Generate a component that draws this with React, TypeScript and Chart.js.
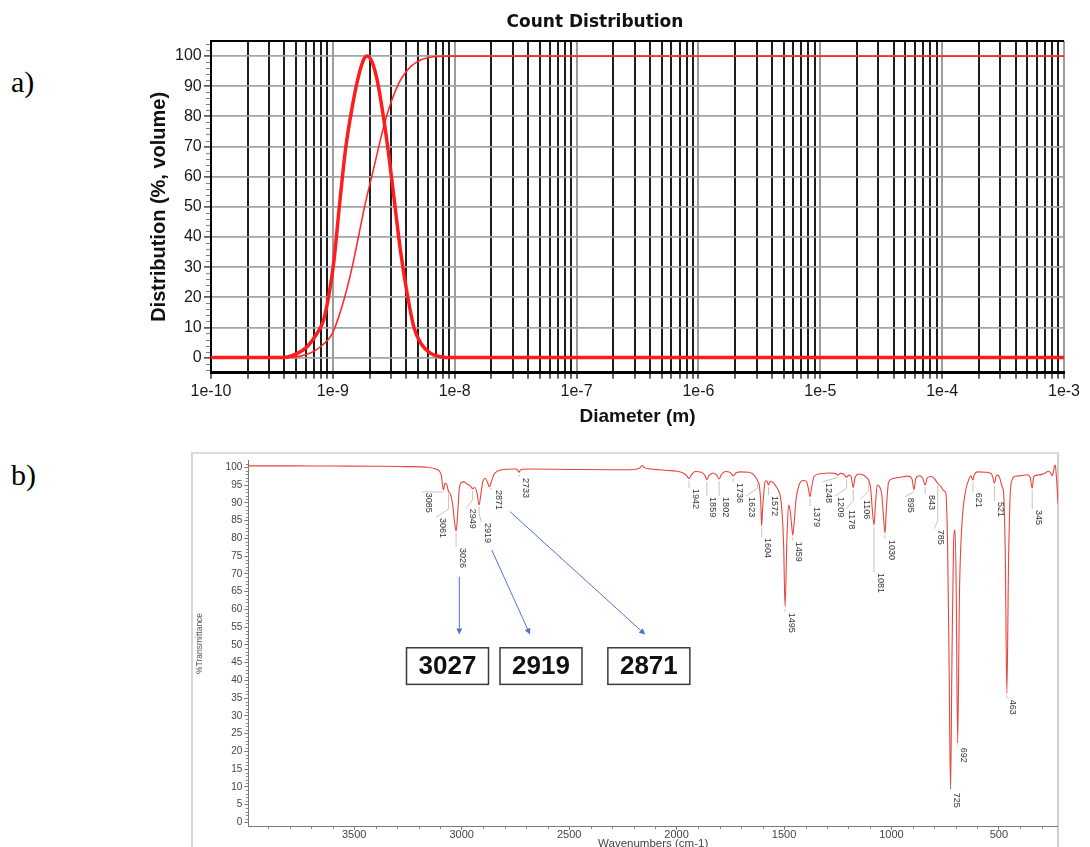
import React, { useEffect, useRef } from "react";
import { Chart, registerables } from "chart.js";

Chart.register(...registerables);

const SANS = "'Liberation Sans', Arial, Helvetica, sans-serif";

// ---------------- a) Count distribution ----------------
const COUNT_DIAMETER_M = [
  1e-10, 3.9e-10, 5.1e-10, 6.15e-10, 7.4e-10, 8.4e-10, 9.3e-10, 1.02e-9, 1.13e-9, 1.27e-9,
  1.44e-9, 1.64e-9, 1.8e-9, 1.91e-9, 2.1e-9, 2.31e-9, 2.62e-9, 2.88e-9, 3.24e-9, 3.6e-9,
  4.08e-9, 4.63e-9, 5.26e-9, 6.35e-9, 7.67e-9, 9.3e-9, 1e-3,
];
const COUNT_PERCENT = [
  0, 0, 1.4, 3.6, 8, 12.5, 21, 32, 50, 69,
  83, 94, 99, 100, 98, 92, 79, 67, 50, 35,
  21, 10, 4.8, 1.4, 0.3, 0, 0,
];
const CUMULATIVE_DIAMETER_M = [
  1e-10, 4.2e-10, 5.4e-10, 6.55e-10, 7.9e-10, 9.9e-10, 1.23e-9, 1.44e-9, 1.64e-9, 1.82e-9,
  2.17e-9, 2.71e-9, 3.48e-9, 4.35e-9, 5.26e-9, 6.76e-9, 8.2e-9, 1e-3,
];
const CUMULATIVE_PERCENT = [
  0, 0, 0.5, 1.5, 3.6, 8, 19, 30, 41, 50,
  63, 79, 91, 96.5, 98.7, 99.8, 100, 100,
];
const DECADE_EXPONENTS = [-10, -9, -8, -7, -6, -5, -4, -3];
const DECADE_LABELS = ["1e-10", "1e-9", "1e-8", "1e-7", "1e-6", "1e-5", "1e-4", "1e-3"];
const MINOR_MULTIPLIERS = [2, 3, 4, 5, 6, 7, 8, 9];
const Y_A_TICKS = [0, 10, 20, 30, 40, 50, 60, 70, 80, 90, 100];
const Y_A_MINOR = [-4, -2, 2, 4, 6, 8, 12, 14, 16, 18, 22, 24, 26, 28, 32, 34, 36, 38, 42, 44, 46, 48, 52, 54, 56, 58, 62, 64, 66, 68, 72, 74, 76, 78, 82, 84, 86, 88, 92, 94, 96, 98, 102, 104];

// ---------------- b) FTIR spectrum ----------------
const SPEC_WAVENUMBER = [
  3993, 3800, 3600, 3400, 3250, 3160, 3125, 3105, 3095, 3085, 3078, 3070, 3061, 3052, 3042, 3034, 3026, 3019, 3012, 3003,
  2990, 2975, 2962, 2949, 2938, 2928, 2919, 2910, 2900, 2890, 2880, 2871, 2862, 2850, 2830, 2800, 2750, 2740, 2733, 2726,
  2700, 2500, 2300, 2200, 2172, 2160, 2150, 2120, 2080, 2040, 2000, 1970, 1952, 1942, 1932, 1912, 1885, 1868, 1859, 1850,
  1830, 1812, 1802, 1792, 1772, 1750, 1736, 1724, 1700, 1665, 1645, 1632, 1623, 1614, 1608, 1604, 1600, 1595, 1588, 1580,
  1572, 1565, 1552, 1538, 1526, 1516, 1510, 1502, 1495, 1487, 1479, 1472, 1465, 1459, 1452, 1444, 1430, 1412, 1396, 1386,
  1379, 1372, 1360, 1330, 1290, 1262, 1248, 1238, 1222, 1209, 1199, 1188, 1178, 1170, 1150, 1125, 1115, 1106, 1097, 1089,
  1081, 1074, 1066, 1056, 1045, 1037, 1030, 1024, 1014, 1000, 960, 920, 905, 895, 887, 870, 855, 843, 834, 815,
  800, 785, 770, 758, 747, 739, 732, 725, 718.5, 711, 704, 698.5, 692, 683.5, 672.5, 657, 641, 630, 621, 615,
  600, 560, 535, 528, 521, 514, 505, 495, 485, 478, 470, 463, 455, 447, 438, 425, 400, 370, 355, 345,
  338, 320, 300, 285, 270, 260, 252, 244, 238, 232, 228, 225,
];
const SPEC_TRANSMITTANCE = [
  100.4, 100.4, 100.35, 100.3, 100.2, 100.0, 99.6, 99.0, 97.8, 93.6, 95.5, 95.2, 93.1, 92.4, 89.5, 85.0, 82.0, 86.5, 93.5, 95.6,
  95.9, 95.3, 94.9, 94.0, 94.3, 92.5, 89.4, 92.8, 96.3, 96.9, 95.8, 94.5, 95.9, 98.0, 99.0, 99.4, 99.5, 99.2, 98.6, 99.3,
  99.5, 99.4, 99.3, 99.4, 99.8, 100.5, 99.9, 99.5, 99.3, 99.1, 98.9, 98.4, 97.6, 96.8, 97.8, 98.8, 98.6, 97.7, 96.5, 97.6,
  98.4, 97.7, 96.7, 97.9, 98.8, 98.5, 97.6, 98.4, 98.7, 98.6, 98.1, 97.2, 96.2, 94.5, 89.8, 83.5, 88.0, 92.1, 96.0, 96.2,
  95.0, 96.0, 95.8, 94.7, 93.5, 91.5, 88.0, 78.6, 60.7, 78.6, 89.4, 88.0, 84.0, 80.9, 85.0, 91.0, 95.0, 96.3, 96.1, 93.8,
  91.7, 94.2, 97.4, 98.2, 98.4, 98.3, 97.8, 98.3, 98.1, 97.2, 97.8, 97.4, 94.3, 97.0, 98.1, 97.6, 97.0, 96.4, 94.1, 88.0,
  83.7, 90.0, 95.0, 94.6, 92.2, 86.0, 81.5, 88.0, 95.6, 96.7, 97.2, 97.5, 96.8, 93.7, 96.8, 97.6, 97.0, 95.0, 97.0, 97.4,
  96.8, 95.5, 94.6, 93.5, 92.7, 78.6, 45.7, 9.2, 45.7, 78.6, 82.3, 64.7, 22.3, 64.7, 83.5, 92.7, 96.4, 97.6, 96.4, 97.8,
  98.7, 98.6, 98.2, 97.0, 95.5, 97.3, 97.8, 96.8, 94.5, 92.7, 73.9, 36.3, 73.9, 92.7, 96.5, 97.5, 97.6, 97.9, 97.3, 94.1,
  97.3, 97.8, 98.0, 98.4, 98.9, 98.5, 97.6, 99.5, 100.7, 97.0, 93.0, 89.9,
];
const X_B_TICKS = [500, 1000, 1500, 2000, 2500, 3000, 3500];
const X_B_MINOR = [300, 400, 600, 700, 800, 900, 1100, 1200, 1300, 1400, 1600, 1700, 1800, 1900, 2100, 2200, 2300, 2400, 2600, 2700, 2800, 2900, 3100, 3200, 3300, 3400, 3600, 3700, 3800, 3900];
const Y_B_TICKS = [0, 5, 10, 15, 20, 25, 30, 35, 40, 45, 50, 55, 60, 65, 70, 75, 80, 85, 90, 95, 100];
const Y_B_MINOR_STEP = 1;

const PEAK_WN = [3085, 3061, 3026, 2949, 2919, 2871, 2733, 1942, 1859, 1802, 1736, 1623, 1604, 1572, 1495, 1459, 1379, 1248, 1209, 1178, 1106, 1081, 1030, 895, 843, 785, 725, 692, 621, 521, 463, 345];
const PEAK_T = [93.6, 93.1, 82.0, 94.0, 89.4, 94.5, 98.6, 96.8, 96.5, 96.7, 97.6, 96.2, 83.5, 95.0, 60.7, 80.9, 91.7, 97.8, 97.2, 94.3, 96.4, 83.7, 81.5, 93.7, 95.0, 95.5, 9.2, 22.3, 96.4, 95.5, 36.3, 94.1];
const LABEL_WN = [3183, 3118, 3026, 2978, 2908, 2857, 2733, 1942, 1859, 1802, 1736, 1677, 1604, 1572, 1495, 1459, 1379, 1321, 1263, 1212, 1144, 1081, 1030, 937, 843, 801, 725, 692, 621, 521, 463, 345];
const LABEL_T = [92.8, 85.7, 77.3, 88.3, 84.3, 93.6, 97.0, 93.9, 91.6, 91.6, 95.6, 91.6, 80.1, 91.9, 59.0, 79.0, 88.8, 95.6, 91.6, 88.0, 90.8, 70.2, 79.5, 91.4, 92.2, 82.4, 8.3, 21.0, 92.8, 90.2, 34.5, 88.0];

const ARROW_FROM_WN = [3011, 2860, 2775];
const ARROW_FROM_T = [69.2, 76.7, 87.5];
const ARROW_TO_WN = [3011, 2682, 2146];
const ARROW_TO_T = [52.9, 52.9, 52.9];

const BOX_TEXT = ["3027", "2919", "2871"];
const BOX_WN = [3066, 2631, 2129];
const BOX_T = [44.0, 44.0, 44.0];

// ---------------- plugins ----------------
const countFramePlugin = {
  id: "countFrame",
  beforeDatasetsDraw(chart: any) {
    const { ctx, chartArea: ca, scales } = chart;
    const y = scales.y;
    ctx.save();
    ctx.strokeStyle = "#000";
    ctx.lineWidth = 2;
    ctx.beginPath();
    ctx.moveTo(ca.left - 1, ca.top);
    ctx.lineTo(ca.right, ca.top);
    ctx.stroke();
    ctx.strokeStyle = "#808080";
    ctx.lineWidth = 1;
    ctx.beginPath();
    Y_A_MINOR.forEach((v) => {
      const py = Math.round(y.getPixelForValue(v)) + 0.5;
      ctx.moveTo(ca.left - 5, py);
      ctx.lineTo(ca.left - 1, py);
    });
    ctx.stroke();
    ctx.restore();
  },
};

const ftirPlugin = {
  id: "ftirAnnotations",
  afterDatasetsDraw(chart: any) {
    const { ctx, chartArea: ca, scales } = chart;
    const x = scales.x;
    const y = scales.y;
    ctx.save();

    // minor ticks
    ctx.strokeStyle = "#8a8a8a";
    ctx.lineWidth = 1;
    ctx.beginPath();
    for (let v = 0; v <= 101; v += Y_B_MINOR_STEP) {
      if (v % 5 === 0) continue;
      const py = Math.round(y.getPixelForValue(v)) + 0.5;
      ctx.moveTo(ca.left - 2.5, py);
      ctx.lineTo(ca.left, py);
    }
    X_B_MINOR.forEach((w) => {
      const px = Math.round(x.getPixelForValue(w)) + 0.5;
      ctx.moveTo(px, ca.bottom);
      ctx.lineTo(px, ca.bottom + 2.5);
    });
    ctx.stroke();

    // peak labels with leaders
    ctx.font = `9px ${SANS}`;
    ctx.textAlign = "left";
    ctx.textBaseline = "alphabetic";
    PEAK_WN.forEach((wn, i) => {
      const px = x.getPixelForValue(wn);
      const py = y.getPixelForValue(PEAK_T[i]) + 2;
      const lx = x.getPixelForValue(LABEL_WN[i]);
      const ly = y.getPixelForValue(LABEL_T[i]);
      ctx.strokeStyle = "#c4c4c4";
      ctx.lineWidth = 1;
      ctx.beginPath();
      ctx.moveTo(px, py);
      if (Math.abs(lx - px) > 1 && ly - 9 > py) ctx.lineTo(px, ly - 9);
      ctx.lineTo(lx, ly - 1);
      ctx.stroke();
      ctx.save();
      ctx.translate(lx + 3.5, ly);
      ctx.rotate(Math.PI / 2);
      ctx.fillStyle = "#333";
      ctx.fillText(String(wn), 0, 0);
      ctx.restore();
    });

    // arrows
    ctx.strokeStyle = "#5274c6";
    ctx.fillStyle = "#5274c6";
    ctx.lineWidth = 1;
    ARROW_FROM_WN.forEach((w, i) => {
      const x0 = x.getPixelForValue(w);
      const y0 = y.getPixelForValue(ARROW_FROM_T[i]);
      const x1 = x.getPixelForValue(ARROW_TO_WN[i]);
      const y1 = y.getPixelForValue(ARROW_TO_T[i]);
      const ang = Math.atan2(y1 - y0, x1 - x0);
      const head = 6;
      const hw = 3;
      const bx = x1 - head * Math.cos(ang);
      const by = y1 - head * Math.sin(ang);
      ctx.beginPath();
      ctx.moveTo(x0, y0);
      ctx.lineTo(bx, by);
      ctx.stroke();
      ctx.beginPath();
      ctx.moveTo(x1, y1);
      ctx.lineTo(bx + hw * Math.sin(ang), by - hw * Math.cos(ang));
      ctx.lineTo(bx - hw * Math.sin(ang), by + hw * Math.cos(ang));
      ctx.closePath();
      ctx.fill();
    });

    // boxes
    ctx.font = `bold 26px ${SANS}`;
    ctx.textAlign = "center";
    ctx.textBaseline = "middle";
    BOX_WN.forEach((w, i) => {
      const cx = x.getPixelForValue(w);
      const cy = y.getPixelForValue(BOX_T[i]);
      ctx.fillStyle = "#fff";
      ctx.fillRect(cx - 41, cy - 18.3, 82, 36.6);
      ctx.strokeStyle = "#3a3a3a";
      ctx.lineWidth = 1.5;
      ctx.strokeRect(cx - 41, cy - 18.3, 82, 36.6);
      ctx.fillStyle = "#111";
      ctx.fillText(BOX_TEXT[i], cx, cy + 1);
    });

    ctx.restore();
  },
};

function buildCountConfig(): any {
  return {
    type: "line",
    data: {
      datasets: [
        {
          data: COUNT_DIAMETER_M.map((d, i) => ({ x: d, y: COUNT_PERCENT[i] })),
          borderColor: "#ff1c1c",
          borderWidth: 3.5,
          pointRadius: 0,
          cubicInterpolationMode: "monotone",
          fill: false,
        },
        {
          data: CUMULATIVE_DIAMETER_M.map((d, i) => ({ x: d, y: CUMULATIVE_PERCENT[i] })),
          borderColor: "#ff2a2a",
          borderWidth: 1.6,
          pointRadius: 0,
          cubicInterpolationMode: "monotone",
          fill: false,
        },
      ],
    },
    options: {
      animation: false,
      responsive: false,
      maintainAspectRatio: false,
      events: [],
      layout: { padding: { left: 0, right: 26, top: 0, bottom: 0 } },
      plugins: {
        legend: { display: false },
        tooltip: { enabled: false },
        title: {
          display: true,
          text: "Count Distribution",
          color: "#111",
          font: { family: "'DejaVu Sans', Verdana, sans-serif", size: 17, weight: "bold" },
          padding: { top: 12.3, bottom: 8.3 },
        },
      },
      scales: {
        x: {
          type: "logarithmic",
          min: 1e-10,
          max: 1e-3,
          afterBuildTicks: (s: any) => {
            const t: any[] = [];
            DECADE_EXPONENTS.forEach((e, i) => {
              t.push({ value: Number(`1e${e}`), major: true, lbl: DECADE_LABELS[i] });
              if (i < DECADE_EXPONENTS.length - 1) {
                MINOR_MULTIPLIERS.forEach((m) => t.push({ value: Number(`${m}e${e}`), major: false, lbl: "" }));
              }
            });
            s.ticks = t;
          },
          afterFit: (s: any) => {
            s.height = 67.3;
            s.paddingLeft = 0;
            s.paddingRight = 0;
            s.paddingTop = 0;
            s.paddingBottom = 0;
          },
          grid: {
            color: (c: any) => (c.tick && c.tick.major ? "#9c9c9c" : "#1e1e1e"),
            lineWidth: 2,
            tickLength: 6,
            tickColor: "#333",
            tickWidth: 1.5,
          },
          border: { color: "#000", width: 3 },
          ticks: {
            autoSkip: false,
            maxRotation: 0,
            minRotation: 0,
            padding: 3.7,
            color: "#1a1a1a",
            font: { family: SANS, size: 16 },
            callback: (_v: any, i: number, ts: any[]) => (ts[i] && ts[i].major ? ts[i].lbl : ""),
          },
          title: {
            display: true,
            text: "Diameter (m)",
            color: "#111",
            font: { family: SANS, size: 19, weight: "bold" },
            padding: { top: 0, bottom: 11.6 },
          },
        },
        y: {
          type: "linear",
          min: -5,
          max: 105,
          afterBuildTicks: (s: any) => {
            s.ticks = Y_A_TICKS.map((v) => ({ value: v }));
          },
          afterFit: (s: any) => {
            s.width = 85;
            s.paddingTop = 0;
            s.paddingBottom = 0;
            s.paddingLeft = 0;
            s.paddingRight = 0;
          },
          grid: {
            color: "#a4a4a4",
            lineWidth: 1.8,
            tickLength: 7,
            tickColor: "#444",
            tickWidth: 1.5,
          },
          border: { color: "#000", width: 2 },
          ticks: {
            autoSkip: false,
            padding: 2.3,
            color: "#1a1a1a",
            font: { family: SANS, size: 16 },
            callback: (v: any) => String(v),
          },
          title: {
            display: true,
            text: "Distribution (%, volume)",
            color: "#111",
            font: { family: SANS, size: 20, weight: "bold" },
            padding: { top: 21, bottom: 0 },
          },
        },
      },
    },
    plugins: [countFramePlugin],
  };
}

function buildFtirConfig(): any {
  return {
    type: "line",
    data: {
      datasets: [
        {
          data: SPEC_WAVENUMBER.map((w, i) => ({ x: w, y: SPEC_TRANSMITTANCE[i] })),
          borderColor: "#e8453e",
          borderWidth: 1.1,
          pointRadius: 0,
          cubicInterpolationMode: "monotone",
          fill: false,
        },
      ],
    },
    options: {
      animation: false,
      responsive: false,
      maintainAspectRatio: false,
      events: [],
      layout: { padding: { left: 0, right: 0, top: 5.2, bottom: 0 } },
      plugins: {
        legend: { display: false },
        tooltip: { enabled: false },
        title: { display: false },
      },
      scales: {
        x: {
          type: "linear",
          reverse: true,
          min: 225,
          max: 3993,
          afterBuildTicks: (s: any) => {
            s.ticks = X_B_TICKS.map((v) => ({ value: v }));
          },
          afterFit: (s: any) => {
            s.height = 28.3;
            s.paddingLeft = 0;
            s.paddingRight = 0;
            s.paddingTop = 0;
            s.paddingBottom = 0;
          },
          grid: { drawOnChartArea: false, tickLength: 3, color: "#777", tickColor: "#777" },
          border: { color: "#7a7a7a", width: 1 },
          ticks: {
            autoSkip: false,
            maxRotation: 0,
            minRotation: 0,
            padding: -1.3,
            color: "#444",
            font: { family: SANS, size: 11 },
            callback: (v: any) => String(v),
          },
          title: {
            display: true,
            text: "Wavenumbers (cm-1)",
            color: "#444",
            font: { family: SANS, size: 11.5 },
            padding: { top: 0, bottom: 4.1 },
          },
        },
        y: {
          type: "linear",
          min: -1.25,
          max: 102,
          afterBuildTicks: (s: any) => {
            s.ticks = Y_B_TICKS.map((v) => ({ value: v }));
          },
          afterFit: (s: any) => {
            s.width = 56.3;
            s.paddingTop = 0;
            s.paddingBottom = 0;
            s.paddingLeft = 0;
            s.paddingRight = 0;
          },
          grid: { drawOnChartArea: false, tickLength: 4, color: "#777", tickColor: "#777" },
          border: { color: "#7a7a7a", width: 1 },
          ticks: {
            autoSkip: false,
            padding: 2,
            color: "#444",
            font: { family: SANS, size: 10 },
            callback: (v: any) => String(v),
          },
          title: {
            display: true,
            text: "%Transmittance",
            color: "#555",
            font: { family: SANS, size: 8.5 },
            padding: { top: 2.9, bottom: 0 },
          },
        },
      },
    },
    plugins: [ftirPlugin],
  };
}

export default function App() {
  const refA = useRef<HTMLCanvasElement | null>(null);
  const refB = useRef<HTMLCanvasElement | null>(null);

  useEffect(() => {
    if (!refA.current || !refB.current) return;
    const a = new Chart(refA.current, buildCountConfig());
    const b = new Chart(refB.current, buildFtirConfig());
    return () => {
      a.destroy();
      b.destroy();
    };
  }, []);

  const panelLabel: React.CSSProperties = {
    position: "absolute",
    left: 11,
    font: "30px 'Liberation Serif', 'Times New Roman', serif",
    lineHeight: "30px",
    color: "#000",
    margin: 0,
  };

  return (
    <div
      style={{
        position: "fixed",
        left: 0,
        top: 0,
        width: 1090,
        height: 847,
        overflow: "hidden",
        background: "#fff",
      }}
    >
      <div style={{ ...panelLabel, top: 66.6 }}>a)</div>
      <div style={{ ...panelLabel, top: 460 }}>b)</div>
      <canvas
        ref={refA}
        width={964}
        height={440}
        style={{ position: "absolute", left: 126, top: 0, width: 964, height: 440, display: "block" }}
      />
      <div
        style={{
          position: "absolute",
          left: 191,
          top: 452,
          width: 868,
          height: 420,
          boxSizing: "border-box",
          borderLeft: "2px solid #d6d6d6",
          borderTop: "2px solid #dcdcdc",
          borderRight: "2px solid #d0d0d0",
        }}
      />
      <canvas
        ref={refB}
        width={866}
        height={400}
        style={{ position: "absolute", left: 192, top: 455, width: 866, height: 400, display: "block" }}
      />
    </div>
  );
}
